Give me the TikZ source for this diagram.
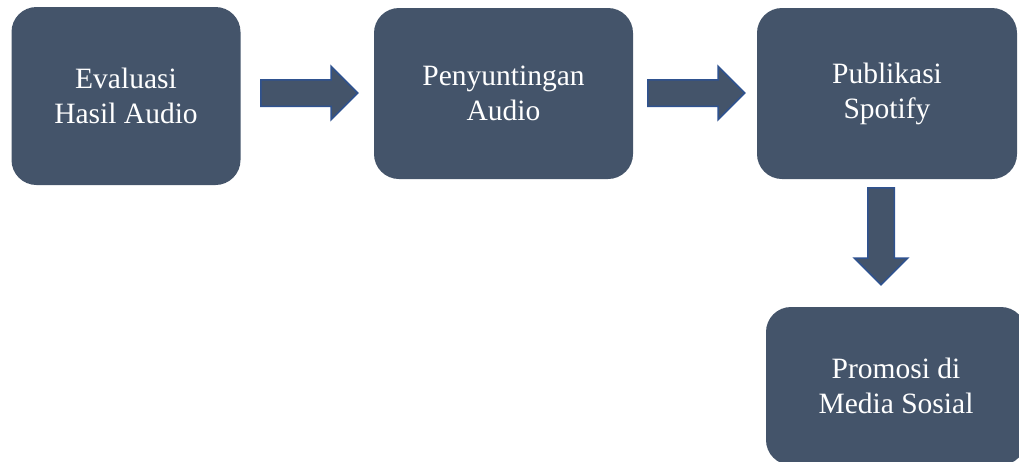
\documentclass[tikz,border=0pt]{standalone}
\usepackage{fontspec}
\setmainfont{Liberation Serif}
\usetikzlibrary{shapes.arrows}
\definecolor{boxfill}{HTML}{44546A}
\definecolor{arrowline}{HTML}{2F528F}

\tikzset{
  stepbox/.style={fill=boxfill, rounded corners=25, text=white, align=center,
    inner sep=0, font=\fontsize{29.5}{35}\selectfont},
  blockarrow/.style={single arrow, fill=boxfill, draw=arrowline, line width=1.5,
    minimum height=97, minimum width=52, inner sep=12.5, single arrow head extend=13.5}
}

\begin{document}
\begin{tikzpicture}[x=1pt,y=-1pt]
  \useasboundingbox (0,0) rectangle (1019,461);
  \clip (0,0) rectangle (1019,461);

  \draw (126,96) node[stepbox, minimum width=229, minimum height=178] (evaluasi) {Evaluasi\\Hasil Audio};
  \draw (503.5,93.5) node[stepbox, minimum width=259, minimum height=171] (sunting) {Penyuntingan\\Audio};
  \draw (887,93.5) node[stepbox, minimum width=260, minimum height=171] (spotify) {Publikasi\\Spotify};
  \draw (896,386) node[stepbox, minimum width=260, minimum height=158] (promosi) {Promosi di\\Media Sosial};

  % panah antar langkah
  \draw (260,93) node[blockarrow, anchor=tail] (panah1) {};
  \draw (647,93) node[blockarrow, anchor=tail] (panah2) {};
  \draw (881,187) node[blockarrow, anchor=tail, shape border rotate=270] (panah3) {};

\end{tikzpicture}
\end{document}
